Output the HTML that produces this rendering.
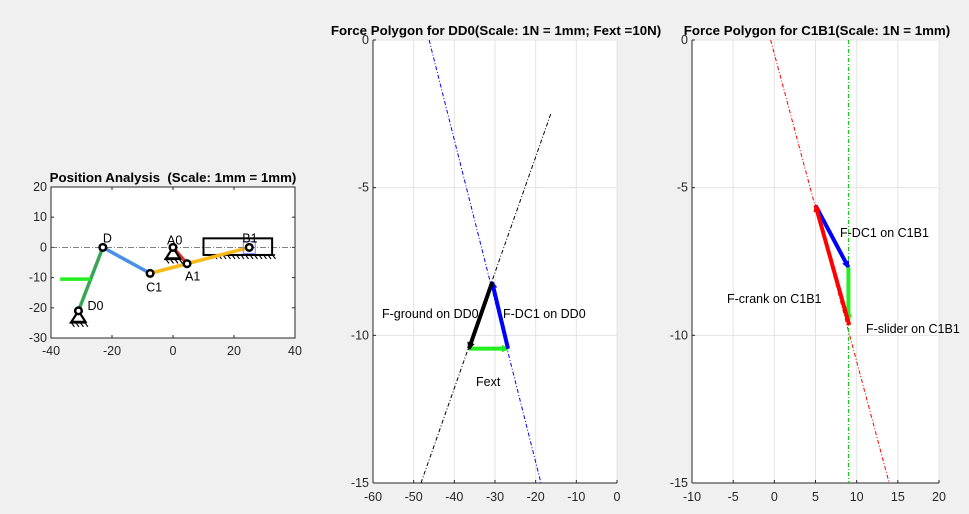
<!DOCTYPE html>
<html><head><meta charset="utf-8"><style>
html,body{margin:0;padding:0;background:#f0f0f0;}
svg{display:block;font-family:"Liberation Sans",sans-serif;}
</style></head><body>
<svg id="fig" width="969" height="514" viewBox="0 0 969 514" xmlns="http://www.w3.org/2000/svg"></svg>
<script>
// ---- data ----
const ax1XTicks=[-40,-20,0,20,40];
const ax1YTicks=[-30,-20,-10,0,10,20];
const jointNames=["D0","D","C1","A0","A1","B1"];
const jointX=[-31,-23,-7.5,0,4.6,25];
const jointY=[-21,0,-8.6,0,-5.4,0];
const fextArrowX=[-37,-27];
const fextArrowY=[-10.5,-10.5];
const sliderBoxX=[10,32.5];
const sliderBoxY=[-2.5,3];

const ax2XTicks=[-60,-50,-40,-30,-20,-10,0];
const ax2YTicks=[-15,-10,-5,0];
const ddPolyX=[-36.4,-30.7,-26.8]; // bottom-left, top, bottom-right
const ddPolyY=[-10.45,-8.2,-10.45];
const ddGroundLineX=[-48.2,-16.2];
const ddGroundLineY=[-15,-2.47];
const ddDC1LineX=[-46.2,-18.7];
const ddDC1LineY=[0,-15];

const ax3XTicks=[-10,-5,0,5,10,15,20];
const ax3YTicks=[-15,-10,-5,0];
const cbPolyX=[5.0,9.0,9.0,9.1];
const cbPolyY=[-5.6,-7.7,-9.5,-9.65];
const cbCrankLineX=[-0.45,13.95];
const cbCrankLineY=[0,-15];
const cbSliderLineX=[9,9];
const cbSliderLineY=[0,-15];

const NS="http://www.w3.org/2000/svg";
const svg=document.getElementById('fig');
function mk(tag,attrs,parent,name,inter){const e=document.createElementNS(NS,tag);for(const k in attrs)e.setAttribute(k,attrs[k]);


(parent||svg).appendChild(e);return e;}
function txt(x,y,s,attrs,name){const t=mk('text',Object.assign({x:x,y:y,'font-size':12,fill:'#262626'},attrs||{}),svg,name,false);t.setAttribute('xml:space','preserve');t.style.whiteSpace='pre';t.textContent=s;return t;}
function axis(L,T,W,H,x0,x1,y0,y1){return {sx:v=>L+(v-x0)/(x1-x0)*W,sy:v=>T+H-(v-y0)/(y1-y0)*H};}

// ---------- axes 1 ----------
const A1={L:51,T:187,W:244,H:151};
const a1=axis(A1.L,A1.T,A1.W,A1.H,-40,40,-30,20);
mk('rect',{x:A1.L,y:A1.T,width:A1.W,height:A1.H,fill:'#fff',stroke:'#262626','stroke-width':1},svg,'position-plot-area',false);
ax1XTicks.forEach(v=>{const x=a1.sx(v);mk('line',{x1:x,y1:A1.T+A1.H,x2:x,y2:A1.T+A1.H-3,stroke:'#262626'},svg,'x-tick',false);mk('line',{x1:x,y1:A1.T,x2:x,y2:A1.T+3,stroke:'#262626'},svg,'x-tick',false);txt(x,A1.T+A1.H+17,v,{'text-anchor':'middle','font-size':12.5},'x-tick-label');});
ax1YTicks.forEach(v=>{const y=a1.sy(v);mk('line',{x1:A1.L,y1:y,x2:A1.L+3,y2:y,stroke:'#262626'},svg,'y-tick',false);mk('line',{x1:A1.L+A1.W,y1:y,x2:A1.L+A1.W-3,y2:y,stroke:'#262626'},svg,'y-tick',false);txt(A1.L-4,y+4,v,{'text-anchor':'end','font-size':12.5},'y-tick-label');});
txt(A1.L+A1.W/2,182,'Position Analysis  (Scale: 1mm = 1mm)',{'text-anchor':'middle','font-weight':'bold','font-size':13.3,fill:'#000'},'position-title');
mk('line',{x1:A1.L,y1:a1.sy(0),x2:A1.L+A1.W,y2:a1.sy(0),stroke:'#555','stroke-dasharray':'6 2 1 2','stroke-width':0.8},svg,'slider-axis-line',false);
mk('rect',{x:a1.sx(sliderBoxX[0]),y:a1.sy(sliderBoxY[1]),width:a1.sx(sliderBoxX[1])-a1.sx(sliderBoxX[0]),height:a1.sy(sliderBoxY[0])-a1.sy(sliderBoxY[1]),fill:'none',stroke:'#000','stroke-width':2},svg,'slider-box',false);
function hatch(x0,x1,y,name){mk('line',{x1:x0,y1:y,x2:x1,y2:y,stroke:'#000','stroke-width':1.5},svg,name,false);for(let x=x0+2;x<=x1;x+=4.5)mk('line',{x1:x,y1:y,x2:x+3,y2:y+4,stroke:'#000','stroke-width':1.2},svg,name,false);}
hatch(a1.sx(sliderBoxX[0])+4,a1.sx(sliderBoxX[1])+3,a1.sy(sliderBoxY[0]),'slider-ground');
const idx=n=>jointNames.indexOf(n);
function link(a,b,col,name){mk('line',{x1:a1.sx(jointX[idx(a)]),y1:a1.sy(jointY[idx(a)]),x2:a1.sx(jointX[idx(b)]),y2:a1.sy(jointY[idx(b)]),stroke:col,'stroke-width':3.5},svg,name,false);}
link('D0','D','#3aa655','link-d0-d');
link('D','C1','#4a8fe6','link-d-c1');
link('C1','B1','#f5b919','link-c1-b1');
link('A0','A1','#e0352b','link-a0-a1');
mk('line',{x1:a1.sx(fextArrowX[0]),y1:a1.sy(fextArrowY[0]),x2:a1.sx(fextArrowX[1]),y2:a1.sy(fextArrowY[1]),stroke:'#22ee22','stroke-width':3.5},svg,'fext-arrow',false);
['D0','A0'].forEach(n=>{const x=a1.sx(jointX[idx(n)]),y=a1.sy(jointY[idx(n)]);mk('path',{d:`M${x},${y} L${x-7},${y+11} L${x+7},${y+11} Z`,fill:'none',stroke:'#000','stroke-width':2.2},svg,'ground-support-'+n.toLowerCase(),false);hatch(x-9,x+8,y+12,'ground-hatch-'+n.toLowerCase());});
mk('rect',{x:a1.sx(jointX[5])-6,y:a1.sy(0)-6,width:12,height:12,fill:'none',stroke:'#8080ff','stroke-width':1},svg,'slider-block',false);
jointNames.forEach((n,i)=>{mk('circle',{cx:a1.sx(jointX[i]),cy:a1.sy(jointY[i]),r:3.3,fill:'#fff',stroke:'#000','stroke-width':2.5},svg,'joint-'+n.toLowerCase(),false);});
const lblOff={D0:[9,-5],D:[0,-9],C1:[-4,14],A0:[-6,-7],A1:[-2,13],B1:[-7,-9]};
jointNames.forEach((n,i)=>{txt(a1.sx(jointX[i])+lblOff[n][0],a1.sy(jointY[i])+lblOff[n][1]+4,n,{fill:'#000','font-size':12.5},'label-'+n.toLowerCase());});

// ---------- generic force axes ----------
function forceAxes(L,T,W,H,x0,x1,xt,yt,title,tx,prefix){
  const a=axis(L,T,W,H,x0,x1,-15,0);
  mk('rect',{x:L,y:T,width:W,height:H,fill:'#fff'},svg,prefix+'-plot-area',false);
  xt.forEach(v=>{const x=a.sx(v);mk('line',{x1:x,y1:T,x2:x,y2:T+H,stroke:'#e3e3e3'},svg,prefix+'-x-grid',false);});
  yt.forEach(v=>{const y=a.sy(v);mk('line',{x1:L,y1:y,x2:L+W,y2:y,stroke:'#e3e3e3'},svg,prefix+'-y-grid',false);});
  mk('line',{x1:L,y1:T+H,x2:L+W,y2:T+H,stroke:'#262626'},svg,prefix+'-x-axis',false);
  mk('line',{x1:L,y1:T,x2:L,y2:T+H,stroke:'#262626'},svg,prefix+'-y-axis',false);
  xt.forEach(v=>{const x=a.sx(v);mk('line',{x1:x,y1:T+H,x2:x,y2:T+H-3,stroke:'#262626'},svg,prefix+'-x-tick',false);txt(x,T+H+18,v,{'text-anchor':'middle','font-size':12.5},prefix+'-x-tick-label');});
  yt.forEach(v=>{const y=a.sy(v);mk('line',{x1:L,y1:y,x2:L+3,y2:y,stroke:'#262626'},svg,prefix+'-y-tick',false);txt(L-4,y+4,v,{'text-anchor':'end','font-size':12.5},prefix+'-y-tick-label');});
  txt(tx,35,title,{'text-anchor':'middle','font-weight':'bold','font-size':13.3,fill:'#000'},prefix+'-title');
  return a;
}
function dline(a,xs,ys,col,name){mk('line',{x1:a.sx(xs[0]),y1:a.sy(ys[0]),x2:a.sx(xs[1]),y2:a.sy(ys[1]),stroke:col,'stroke-width':1,'stroke-dasharray':'4 2 1 2'},svg,name,false);}
function arrow(a,xa,ya,xb,yb,col,name){const x1=a.sx(xa),y1=a.sy(ya),x2=a.sx(xb),y2=a.sy(yb);mk('line',{x1:x1,y1:y1,x2:x2,y2:y2,stroke:col,'stroke-width':4},svg,name,false);
  const ang=Math.atan2(y2-y1,x2-x1),s=6;mk('path',{d:`M${x2},${y2} L${x2-s*Math.cos(ang-0.45)},${y2-s*Math.sin(ang-0.45)} L${x2-s*Math.cos(ang+0.45)},${y2-s*Math.sin(ang+0.45)} Z`,fill:col,stroke:col,'stroke-width':1.5},svg,name+'-head',false);}

const a2=forceAxes(373,40,244,443,-60,0,ax2XTicks,ax2YTicks,'Force Polygon for DD0(Scale: 1N = 1mm; Fext =10N)',496,'dd0');
dline(a2,ddGroundLineX,ddGroundLineY,'#000','ground-line-dd0');
dline(a2,ddDC1LineX,ddDC1LineY,'#0000ff','dc1-line-dd0');
arrow(a2,ddPolyX[0],ddPolyY[0],ddPolyX[2],ddPolyY[2],'#22ee22','fext-force');
arrow(a2,ddPolyX[2],ddPolyY[2],ddPolyX[1],ddPolyY[1],'#0000ff','f-dc1-on-dd0');
arrow(a2,ddPolyX[1],ddPolyY[1],ddPolyX[0],ddPolyY[0],'#000','f-ground-on-dd0');
txt(382,318,'F-ground on DD0',{fill:'#000','font-size':12.5},'f-ground-label');
txt(503,318,'F-DC1 on DD0',{fill:'#000','font-size':12.5},'f-dc1-dd0-label');
txt(476,386,'Fext',{fill:'#000','font-size':12.5},'fext-label');

const a3=forceAxes(692,40,247,443,-10,20,ax3XTicks,ax3YTicks,'Force Polygon for C1B1(Scale: 1N = 1mm)',817,'c1b1');
dline(a3,cbCrankLineX,cbCrankLineY,'#ff0000','crank-line-c1b1');
dline(a3,cbSliderLineX,cbSliderLineY,'#00cc00','slider-line-c1b1');
arrow(a3,cbPolyX[0],cbPolyY[0],cbPolyX[1],cbPolyY[1],'#0000ff','f-dc1-on-c1b1');
arrow(a3,cbPolyX[1],cbPolyY[1],cbPolyX[2],cbPolyY[2],'#22ee22','f-slider-on-c1b1');
arrow(a3,cbPolyX[3],cbPolyY[3],cbPolyX[0],cbPolyY[0],'#ff0000','f-crank-on-c1b1');
txt(840,237,'F-DC1 on C1B1',{fill:'#000','font-size':12.5},'f-dc1-c1b1-label');
txt(727,303,'F-crank on C1B1',{fill:'#000','font-size':12.5},'f-crank-label');
txt(866,333,'F-slider on C1B1',{fill:'#000','font-size':12.5},'f-slider-label');
</script>
</body></html>
